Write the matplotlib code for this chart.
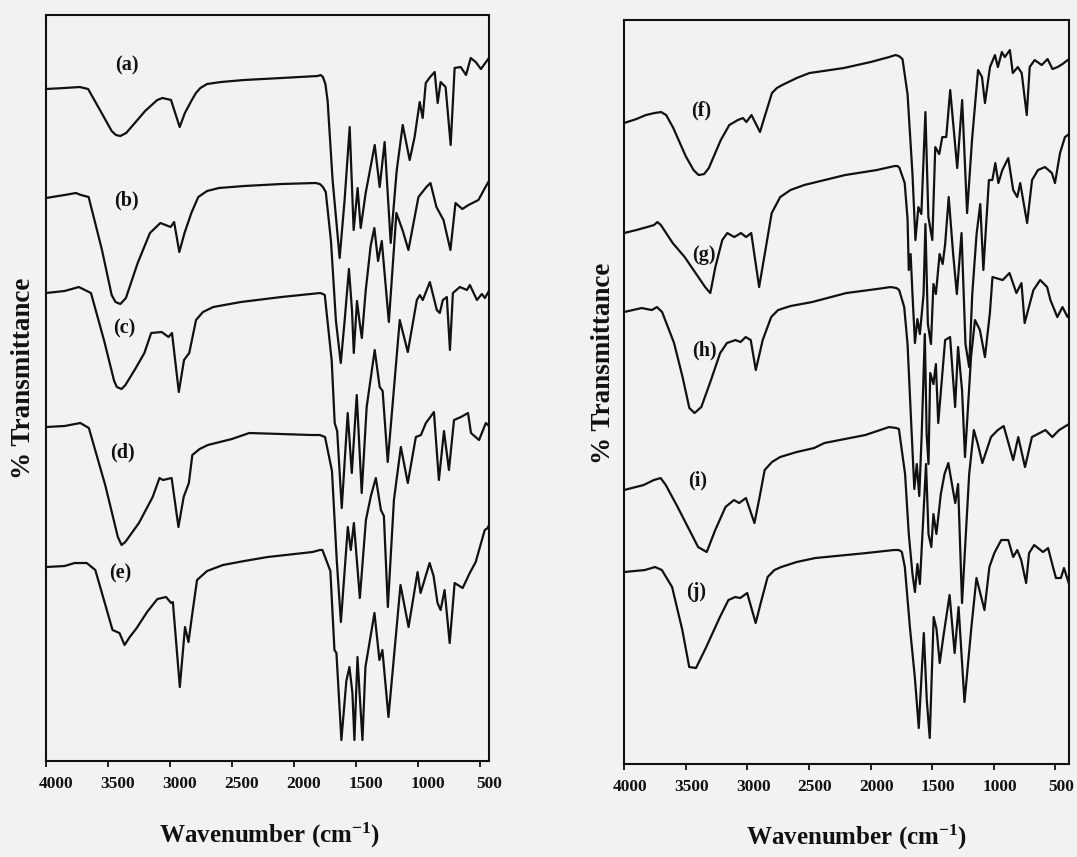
import matplotlib
matplotlib.use("Agg")
import matplotlib.pyplot as plt
import matplotlib.transforms as mtransforms

# FTIR spectra, stacked; transmittance in arbitrary units (offset per trace)
wn_a = [4000, 3850, 3728, 3660, 3560, 3470, 3436, 3400, 3353, 3290, 3200, 3102, 3060, 2991, 2921, 2879,
        2823, 2790, 2754, 2700, 2587, 2400, 2100, 1808, 1784, 1765, 1745, 1727, 1687, 1630, 1590, 1549,
        1517, 1485, 1460, 1420, 1347, 1307, 1267, 1218, 1170, 1121, 1065, 1025, 984, 960, 935, 900,
        863, 839, 815, 775, 734, 702, 653, 610, 572, 532, 490, 425]
t_a = [672, 673, 674, 672, 650, 630, 626, 625, 628, 637, 650, 661, 663, 661, 634, 648,
       661, 668, 673, 677, 679, 681, 683, 685, 686, 684, 677, 660, 581, 503, 561, 634,
       531, 573, 533, 568, 616, 574, 619, 518, 590, 636, 601, 624, 659, 643, 678, 684,
       689, 658, 679, 674, 616, 693, 694, 686, 703, 699, 692, 703]

wn_b = [4000, 3850, 3759, 3717, 3656, 3550, 3470, 3439, 3400, 3355, 3260, 3161, 3077, 2994, 2966, 2924,
        2882, 2827, 2771, 2700, 2604, 2400, 2100, 1825, 1790, 1765, 1742, 1700, 1660, 1621, 1590, 1555,
        1530, 1516, 1490, 1470, 1451, 1420, 1380, 1350, 1320, 1290, 1233, 1172, 1120, 1075, 994, 930,
        897, 849, 792, 736, 695, 640, 590, 510, 453, 425]
t_b = [563, 566, 568, 566, 564, 512, 466, 459, 457, 463, 498, 528, 538, 534, 539, 509,
       528, 548, 564, 570, 573, 575, 577, 578, 577, 574, 569, 520, 440, 398, 440, 492,
       450, 408, 460, 440, 423, 470, 515, 533, 500, 520, 439, 548, 530, 511, 564, 574,
       578, 554, 541, 511, 558, 552, 556, 561, 574, 580]

wn_c = [4000, 3850, 3735, 3637, 3530, 3450, 3428, 3390, 3359, 3280, 3206, 3151, 3067, 3011, 2983, 2928,
        2886, 2844, 2789, 2733, 2650, 2427, 2100, 1787, 1765, 1750, 1694, 1670, 1650, 1613, 1565, 1532,
        1492, 1452, 1412, 1347, 1307, 1283, 1242, 1145, 1080, 1007, 983, 959, 902, 846, 822, 797,
        765, 740, 716, 660, 603, 579, 522, 482, 458, 425]
t_c = [468, 470, 474, 468, 420, 380, 374, 372, 376, 392, 408, 428, 429, 424, 428, 369,
       401, 408, 441, 449, 454, 459, 464, 468, 467, 466, 400, 338, 330, 253, 348, 288,
       366, 268, 354, 411, 374, 370, 299, 441, 409, 461, 466, 461, 479, 451, 448, 461,
       464, 411, 468, 474, 471, 476, 461, 467, 463, 470]

wn_d = [4000, 3850, 3723, 3654, 3520, 3420, 3390, 3360, 3250, 3139, 3084, 3056, 2986, 2931, 2889, 2847,
        2819, 2760, 2694, 2500, 2360, 2100, 1859, 1790, 1748, 1692, 1653, 1620, 1564, 1540, 1515, 1467,
        1418, 1378, 1338, 1297, 1273, 1241, 1192, 1136, 1080, 1015, 974, 934, 869, 829, 788, 748,
        707, 651, 594, 570, 505, 450, 425]
t_d = [334, 335, 338, 333, 275, 224, 216, 219, 238, 264, 283, 281, 283, 234, 264, 278,
       306, 312, 316, 322, 328, 327, 326, 326, 324, 290, 200, 139, 234, 211, 238, 163,
       241, 265, 283, 251, 245, 154, 261, 314, 278, 324, 326, 338, 349, 281, 330, 291,
       341, 344, 348, 328, 321, 338, 335]

wn_e = [4000, 3850, 3769, 3671, 3602, 3530, 3463, 3407, 3366, 3324, 3268, 3184, 3101, 3031, 2990, 2976,
        2920, 2878, 2850, 2823, 2781, 2700, 2572, 2400, 2211, 1849, 1790, 1769, 1705, 1672, 1656, 1616,
        1576, 1551, 1527, 1511, 1486, 1470, 1446, 1422, 1349, 1309, 1285, 1236, 1139, 1074, 1001, 977,
        904, 872, 840, 815, 783, 742, 702, 637, 580, 532, 459, 435, 425]
t_e = [194, 195, 198, 198, 191, 160, 131, 128, 116, 124, 133, 149, 162, 164, 158, 159,
       74, 134, 119, 144, 181, 190, 196, 200, 204, 209, 211, 211, 190, 111, 108, 21,
       80, 94, 68, 21, 104, 70, 21, 94, 148, 101, 111, 44, 176, 134, 189, 168,
       198, 185, 158, 151, 171, 118, 178, 173, 188, 199, 231, 233, 236]

wn_f = [4000, 3900, 3823, 3754, 3699, 3658, 3600, 3500, 3436, 3395, 3350, 3312, 3215, 3146, 3077, 3035,
        3007, 2966, 2897, 2855, 2800, 2760, 2717, 2600, 2496, 2219, 2000, 1850, 1798, 1770, 1741, 1700,
        1660, 1636, 1612, 1588, 1555, 1531, 1499, 1475, 1443, 1418, 1386, 1354, 1297, 1257, 1217, 1177,
        1128, 1096, 1072, 1031, 991, 967, 935, 911, 870, 846, 806, 774, 733, 709, 669, 612,
        564, 524, 483, 443, 390]
t_f = [641, 645, 649, 651, 652, 649, 636, 608, 594, 589, 590, 596, 624, 639, 644, 646,
       642, 649, 632, 649, 671, 676, 679, 686, 691, 696, 702, 707, 709, 708, 705, 670,
       590, 524, 557, 550, 652, 547, 524, 617, 610, 627, 627, 674, 596, 664, 551, 624,
       694, 687, 661, 697, 709, 697, 712, 707, 714, 691, 697, 691, 649, 697, 704, 699,
       705, 695, 697, 700, 705]

wn_g = [4000, 3900, 3812, 3757, 3729, 3701, 3605, 3508, 3425, 3342, 3300, 3259, 3203, 3162, 3106, 3051,
        3010, 2968, 2904, 2857, 2802, 2733, 2650, 2539, 2207, 1950, 1806, 1780, 1765, 1723, 1700, 1690,
        1675, 1660, 1640, 1620, 1600, 1570, 1555, 1535, 1510, 1490, 1470, 1440, 1415, 1395, 1366, 1330,
        1300, 1262, 1230, 1200, 1175, 1140, 1110, 1085, 1040, 1012, 988, 963, 931, 883, 843, 810,
        786, 730, 690, 642, 585, 529, 504, 463, 423, 390]
t_g = [531, 534, 537, 539, 542, 539, 521, 507, 492, 477, 471, 497, 524, 531, 527, 531,
       527, 531, 477, 511, 551, 567, 574, 579, 589, 594, 598, 598, 596, 581, 545, 494,
       510, 470, 421, 445, 430, 470, 540, 440, 420, 480, 470, 510, 500, 520, 567, 510,
       470, 531, 420, 397, 470, 530, 560, 494, 584, 584, 601, 581, 594, 606, 574, 567,
       581, 541, 584, 594, 597, 591, 581, 611, 627, 630]

wn_h = [4000, 3857, 3774, 3733, 3691, 3594, 3525, 3470, 3428, 3373, 3303, 3220, 3165, 3096, 3055, 3013,
        2972, 2931, 2875, 2806, 2750, 2650, 2474, 2197, 1950, 1837, 1790, 1768, 1727, 1700, 1670, 1645,
        1625, 1605, 1585, 1560, 1545, 1530, 1516, 1490, 1470, 1451, 1395, 1355, 1314, 1290, 1258, 1234,
        1185, 1153, 1113, 1072, 1032, 1011, 928, 873, 817, 776, 750, 679, 624, 568, 541, 485,
        443, 402, 390]
t_h = [452, 456, 454, 457, 452, 421, 387, 356, 351, 357, 381, 411, 421, 424, 422, 427,
       424, 394, 424, 447, 454, 458, 462, 471, 475, 477, 476, 474, 457, 420, 340, 275,
       300, 268, 330, 430, 330, 300, 391, 380, 400, 341, 424, 427, 357, 417, 374, 307,
       407, 444, 434, 407, 451, 487, 484, 491, 471, 481, 441, 474, 484, 477, 464, 447,
       457, 447, 450]

wn_i = [4000, 3841, 3758, 3703, 3661, 3565, 3482, 3399, 3329, 3260, 3177, 3108, 3066, 3011, 2942, 2900,
        2859, 2800, 2734, 2600, 2458, 2375, 2043, 1850, 1790, 1770, 1720, 1690, 1660, 1640, 1620, 1600,
        1575, 1550, 1530, 1507, 1490, 1466, 1430, 1400, 1369, 1340, 1313, 1290, 1258, 1200, 1162, 1130,
        1093, 1023, 968, 920, 843, 802, 747, 691, 581, 526, 470, 390]
t_i = [274, 279, 284, 286, 279, 257, 237, 217, 212, 234, 257, 264, 261, 266, 241, 267,
       294, 302, 307, 312, 316, 321, 329, 337, 336, 335, 290, 230, 190, 172, 200, 180,
       240, 300, 230, 217, 250, 230, 270, 290, 301, 280, 261, 280, 161, 290, 334, 320,
       301, 327, 334, 338, 304, 327, 297, 327, 334, 327, 334, 340]

wn_j = [4000, 3831, 3748, 3693, 3610, 3527, 3471, 3416, 3333, 3222, 3153, 3098, 3057, 3001, 2932, 2891,
        2835, 2780, 2725, 2600, 2448, 2033, 1812, 1770, 1746, 1722, 1681, 1641, 1609, 1568, 1544, 1520,
        1488, 1465, 1439, 1410, 1359, 1318, 1286, 1238, 1182, 1141, 1076, 1036, 996, 940, 883, 843,
        810, 778, 738, 714, 673, 601, 560, 520, 496, 456, 431, 390]
t_j = [192, 194, 197, 194, 177, 134, 97, 96, 117, 147, 164, 167, 166, 171, 141, 161,
       187, 194, 197, 202, 206, 211, 214, 214, 212, 197, 137, 87, 36, 131, 64, 26,
       147, 135, 101, 127, 169, 111, 157, 62, 137, 186, 154, 197, 211, 224, 224, 207,
       214, 204, 181, 211, 219, 212, 216, 197, 186, 186, 196, 180]

labels_left = ["(a)", "(b)", "(c)", "(d)", "(e)"]
labels_right = ["(f)", "(g)", "(h)", "(i)", "(j)"]
# where each sample tag sits (wavenumber, transmittance)
tag_left = [(3346, 696), (3354, 561), (3370, 433), (3386, 309), (3402, 188)]
tag_right = [(3376, 654), (3351, 509), (3351, 414), (3400, 284), (3416, 172)]

ticks = [4000, 3500, 3000, 2500, 2000, 1500, 1000, 500]

plt.rcParams['font.family'] = ['Liberation Serif', 'DejaVu Serif']
plt.rcParams['font.weight'] = 'bold'
plt.rcParams['mathtext.fontset'] = 'custom'
plt.rcParams['mathtext.rm'] = 'Liberation Serif:bold'
plt.rcParams['mathtext.it'] = 'Liberation Serif:bold'
plt.rcParams['mathtext.bf'] = 'Liberation Serif:bold'

bg = '#f2f2f0'
ink = '#111111'
fig = plt.figure(figsize=(10.77, 8.57), dpi=100, facecolor=bg)

ax1 = fig.add_axes([0.0427, 0.1120, 0.4113, 0.8705])
ax2 = fig.add_axes([0.5794, 0.1085, 0.4132, 0.8681])

# tick labels sit a little to the right of their ticks
panels = [
    (ax1, [(wn_a, t_a), (wn_b, t_b), (wn_c, t_c), (wn_d, t_d), (wn_e, t_e)],
     labels_left, tag_left, (4000, 425), (0, 746), 0.10),
    (ax2, [(wn_f, t_f), (wn_g, t_g), (wn_h, t_h), (wn_i, t_i), (wn_j, t_j)],
     labels_right, tag_right, (4000, 390), (0, 744), 0.06),
]

for ax, spectra, labs, tags, xl, yl, dx in panels:
    ax.set_facecolor(bg)
    for wn, t in spectra:
        ax.plot(wn, t, color=ink, lw=1.6, solid_joinstyle='round')
    for lab, (x, y) in zip(labs, tags):
        ax.text(x, y, lab, fontsize=14.5, fontweight='bold', ha='center', va='center', color=ink)
    ax.set_xlim(*xl)
    ax.set_ylim(*yl)
    ax.set_xticks(ticks)
    ax.set_yticks([])
    ax.tick_params(axis='x', direction='out', length=4, width=1.3, pad=7,
                   labelsize=12.5, colors=ink)
    shift = mtransforms.ScaledTranslation(dx, 0, fig.dpi_scale_trans)
    for lbl in ax.get_xticklabels():
        lbl.set_fontweight('bold')
        lbl.set_transform(lbl.get_transform() + shift)
    for sp in ax.spines.values():
        sp.set_linewidth(1.5)
        sp.set_color(ink)

fig.text(24 / 1077, 1 - 378 / 857, "% Transmittance", rotation=90, ha='center', va='center',
         fontsize=19.5, fontweight='bold', color=ink)
fig.text(603 / 1077, 1 - 363 / 857, "% Transmittance", rotation=90, ha='center', va='center',
         fontsize=19.5, fontweight='bold', color=ink)
fig.text(270 / 1077, 1 - 835 / 857, r"Wavenumber (cm$^{-1}$)", ha='center', va='center',
         fontsize=18, fontweight='bold', color=ink)
fig.text(857 / 1077, 1 - 837 / 857, r"Wavenumber (cm$^{-1}$)", ha='center', va='center',
         fontsize=18, fontweight='bold', color=ink)

fig.savefig("out.png", dpi=100, facecolor=bg)
